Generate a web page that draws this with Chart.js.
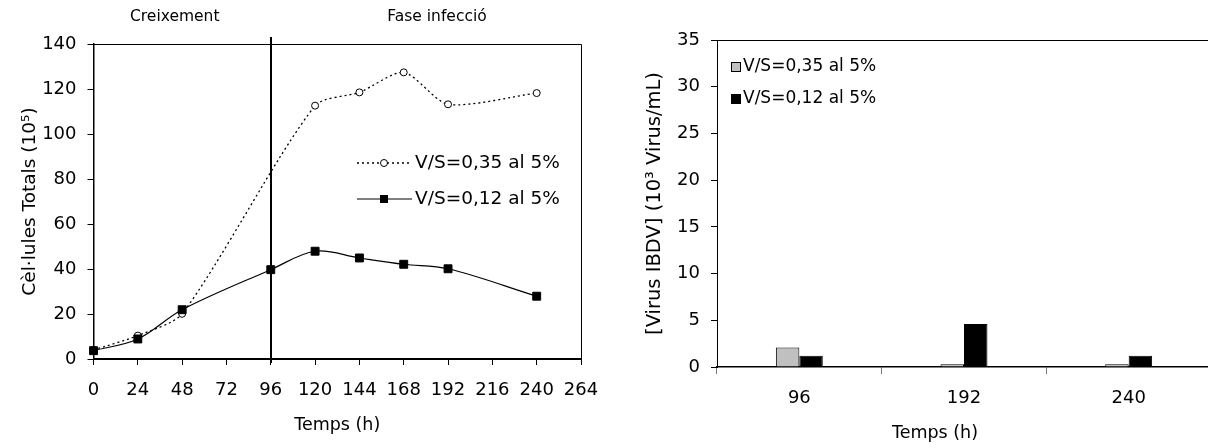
<!DOCTYPE html>
<html>
<head>
<meta charset="utf-8">
<script src="https://cdn.jsdelivr.net/npm/chart.js@4.4.1/dist/chart.umd.min.js"></script>
<style>
  body { margin: 0; background: #fff; overflow: hidden; width: 1208px; height: 448px; }
  #cellBox { position: absolute; left: 0; top: 0; }
  #virusBox { position: absolute; left: 604px; top: 0; }
</style>
</head>
<body>
<div id="cellBox"><canvas id="cellChart" width="604" height="448"></canvas></div>
<div id="virusBox"><canvas id="virusChart" width="610" height="448"></canvas></div>
<script>
// left chart: total cells over time
const hours = [0, 24, 48, 96, 120, 144, 168, 192, 240];
const cellsVS035 = [4.0, 10.4, 20.1, null, 112.6, 118.5, 127.4, 113.2, 118.2];
const cellsVS012 = [3.7, 8.9, 21.9, 39.7, 47.9, 44.9, 42.1, 40.1, 27.9];
const hourTicks = [0, 24, 48, 72, 96, 120, 144, 168, 192, 216, 240, 264];
const cellTicks = [0, 20, 40, 60, 80, 100, 120, 140];

// right chart: virus titre
const virusHours = ["96", "192", "240"];
const virusVS035 = [2.1, 0.3, 0.3];
const virusVS012 = [1.2, 4.6, 1.2];
const virusTicks = [0, 5, 10, 15, 20, 25, 30, 35];

const seriesNames = ["V/S=0,35 al 5%", "V/S=0,12 al 5%"];
const phaseNames = ["Creixement", "Fase infecció"];

Chart.defaults.font.family = "'DejaVu Sans', sans-serif";
Chart.defaults.color = "#000";

function toPoints(values) {
    return hours.map((h, i) => ({ x: h, y: values[i] })).filter(p => p.y !== null);
}

const cellsDecor = {
    id: "cellsDecor",
    afterDatasetsDraw(chart) {
        const ctx = chart.ctx;
        const a = chart.chartArea;
        const xs = chart.scales.x;
        ctx.save();
        // top and right frame
        ctx.strokeStyle = "#000";
        ctx.lineWidth = 1;
        ctx.beginPath();
        ctx.moveTo(a.left, a.top + 0.5);
        ctx.lineTo(a.right + 0.5, a.top + 0.5);
        ctx.lineTo(a.right + 0.5, a.bottom);
        ctx.stroke();

        // phase separator at 96 h
        const sx = Math.round(xs.getPixelForValue(96));
        ctx.lineWidth = 2;
        ctx.beginPath();
        ctx.moveTo(sx, a.top - 7);
        ctx.lineTo(sx, a.bottom + 4);
        ctx.stroke();

        ctx.fillStyle = "#000";
        ctx.font = "15.5px 'DejaVu Sans'";
        ctx.textAlign = "center";
        ctx.textBaseline = "middle";
        ctx.fillText(phaseNames[0], xs.getPixelForValue(44), 17);
        ctx.fillText(phaseNames[1], xs.getPixelForValue(186), 17);

        // legend
        const lx = 357, ly = [163, 199];
        ctx.lineWidth = 1.3;
        ctx.setLineDash([2, 3]);
        ctx.beginPath();
        ctx.moveTo(lx, ly[0]);
        ctx.lineTo(lx + 55, ly[0]);
        ctx.stroke();
        ctx.setLineDash([]);
        ctx.beginPath();
        ctx.arc(lx + 27, ly[0], 3.5, 0, Math.PI * 2);
        ctx.fillStyle = "#fff";
        ctx.fill();
        ctx.lineWidth = 1;
        ctx.stroke();

        ctx.lineWidth = 1.2;
        ctx.beginPath();
        ctx.moveTo(lx, ly[1]);
        ctx.lineTo(lx + 55, ly[1]);
        ctx.stroke();
        ctx.fillStyle = "#000";
        ctx.fillRect(lx + 23, ly[1] - 4, 8, 8);

        ctx.font = "18.5px 'DejaVu Sans'";
        ctx.textAlign = "left";
        ctx.fillText(seriesNames[0], lx + 58, ly[0]);
        ctx.fillText(seriesNames[1], lx + 58, ly[1]);
        ctx.restore();
    }
};

const virusDecor = {
    id: "virusDecor",
    afterDatasetsDraw(chart) {
        const ctx = chart.ctx;
        const a = chart.chartArea;
        ctx.save();
        ctx.strokeStyle = "#000";
        ctx.lineWidth = 1;
        ctx.beginPath();
        ctx.moveTo(a.left, a.top + 0.5);
        ctx.lineTo(chart.width, a.top + 0.5);
        ctx.stroke();

        ctx.fillStyle = "#000";
        ctx.font = "17.5px 'DejaVu Sans'";
        ctx.textAlign = "center";
        ctx.textBaseline = "middle";
        ctx.fillText("Temps (h)", 331, 433);

        // legend
        const lx = 127, ly = [67, 99];
        const colors = ["#c0c0c0", "#000"];
        ctx.font = "17px 'DejaVu Sans'";
        ctx.textAlign = "left";
        ly.forEach((y, i) => {
            ctx.fillStyle = colors[i];
            ctx.fillRect(lx + 0.5, y - 4.5, 9, 9);
            ctx.strokeRect(lx + 0.5, y - 4.5, 9, 9);
            ctx.fillStyle = "#000";
            ctx.fillText(seriesNames[i], lx + 12, y);
        });
        ctx.restore();
    }
};

new Chart(document.getElementById("cellChart"), {
    type: "line",
    data: {
        datasets: [{
            label: seriesNames[0],
            data: toPoints(cellsVS035),
            order: 1,
            borderColor: "#000",
            borderWidth: 1.3,
            borderDash: [2, 3],
            tension: 0.25,
            pointStyle: "circle",
            pointRadius: 3.5,
            pointBackgroundColor: "#fff",
            pointBorderColor: "#000",
            pointBorderWidth: 1,
            clip: false
        }, {
            label: seriesNames[1],
            data: toPoints(cellsVS012),
            order: 0,
            borderColor: "#000",
            borderWidth: 1.2,
            tension: 0.35,
            pointStyle: "rect",
            pointRadius: 5.6,
            pointBackgroundColor: "#000",
            pointBorderColor: "#000",
            pointBorderWidth: 1,
            clip: false
        }]
    },
    options: {
        responsive: false,
        animation: false,
        layout: { padding: { top: 44, right: 23, left: 0, bottom: 0 } },
        plugins: { legend: { display: false }, tooltip: { enabled: false } },
        scales: {
            x: {
                type: "linear",
                min: 0,
                max: 264,
                afterBuildTicks: s => { s.ticks = hourTicks.map(v => ({ value: v })); },
                afterFit: s => { s.height = 89; s.paddingLeft = 0; s.paddingRight = 0; },
                border: { color: "#000", width: 2 },
                grid: { drawOnChartArea: false, color: "#000", tickLength: 6 },
                ticks: { font: { size: 18 }, padding: 15, maxRotation: 0 },
                title: { display: true, text: "Temps (h)", font: { size: 17.5 }, padding: { bottom: 12 } }
            },
            y: {
                min: 0,
                max: 140,
                afterBuildTicks: s => { s.ticks = cellTicks.map(v => ({ value: v })); },
                afterFit: s => { s.width = 93.5; s.paddingTop = 0; s.paddingBottom = 0; },
                border: { color: "#000", width: 1.5 },
                grid: { drawOnChartArea: false, color: "#000", tickLength: 6 },
                ticks: { font: { size: 18 }, padding: 11 },
                title: { display: true, text: "Cèl·lules Totals (10⁵)", font: { size: 18.5 }, padding: { top: 19 } }
            }
        }
    },
    plugins: [cellsDecor]
});

new Chart(document.getElementById("virusChart"), {
    type: "bar",
    data: {
        labels: virusHours,
        datasets: [{
            label: seriesNames[0],
            data: virusVS035,
            backgroundColor: "#c0c0c0",
            borderColor: "#000",
            borderWidth: 1
        }, {
            label: seriesNames[1],
            data: virusVS012,
            backgroundColor: "#000",
            borderColor: "#000",
            borderWidth: 1
        }]
    },
    options: {
        responsive: false,
        animation: false,
        layout: { padding: { top: 40, right: 3, left: 0, bottom: 0 } },
        datasets: { bar: { barPercentage: 1, categoryPercentage: 0.285 } },
        plugins: { legend: { display: false }, tooltip: { enabled: false } },
        scales: {
            x: {
                afterFit: s => { s.height = 81; s.paddingLeft = 0; s.paddingRight = 0; },
                border: { color: "#000", width: 1.5 },
                grid: { drawOnChartArea: false, color: "#777", tickLength: 7, offset: true },
                ticks: { font: { size: 18 }, padding: 14 }
            },
            y: {
                min: 0,
                max: 35,
                afterBuildTicks: s => { s.ticks = virusTicks.map(v => ({ value: v })); },
                afterFit: s => { s.width = 113; s.paddingTop = 0; s.paddingBottom = 0; },
                border: { color: "#000", width: 1 },
                grid: { drawOnChartArea: false, color: "#000", tickLength: 6 },
                ticks: { font: { size: 18 }, padding: 11 },
                title: { display: true, text: "[Virus IBDV] (10³ Virus/mL)", font: { size: 19.5 }, padding: { top: 39 } }
            }
        }
    },
    plugins: [virusDecor]
});
</script>
</body>
</html>
